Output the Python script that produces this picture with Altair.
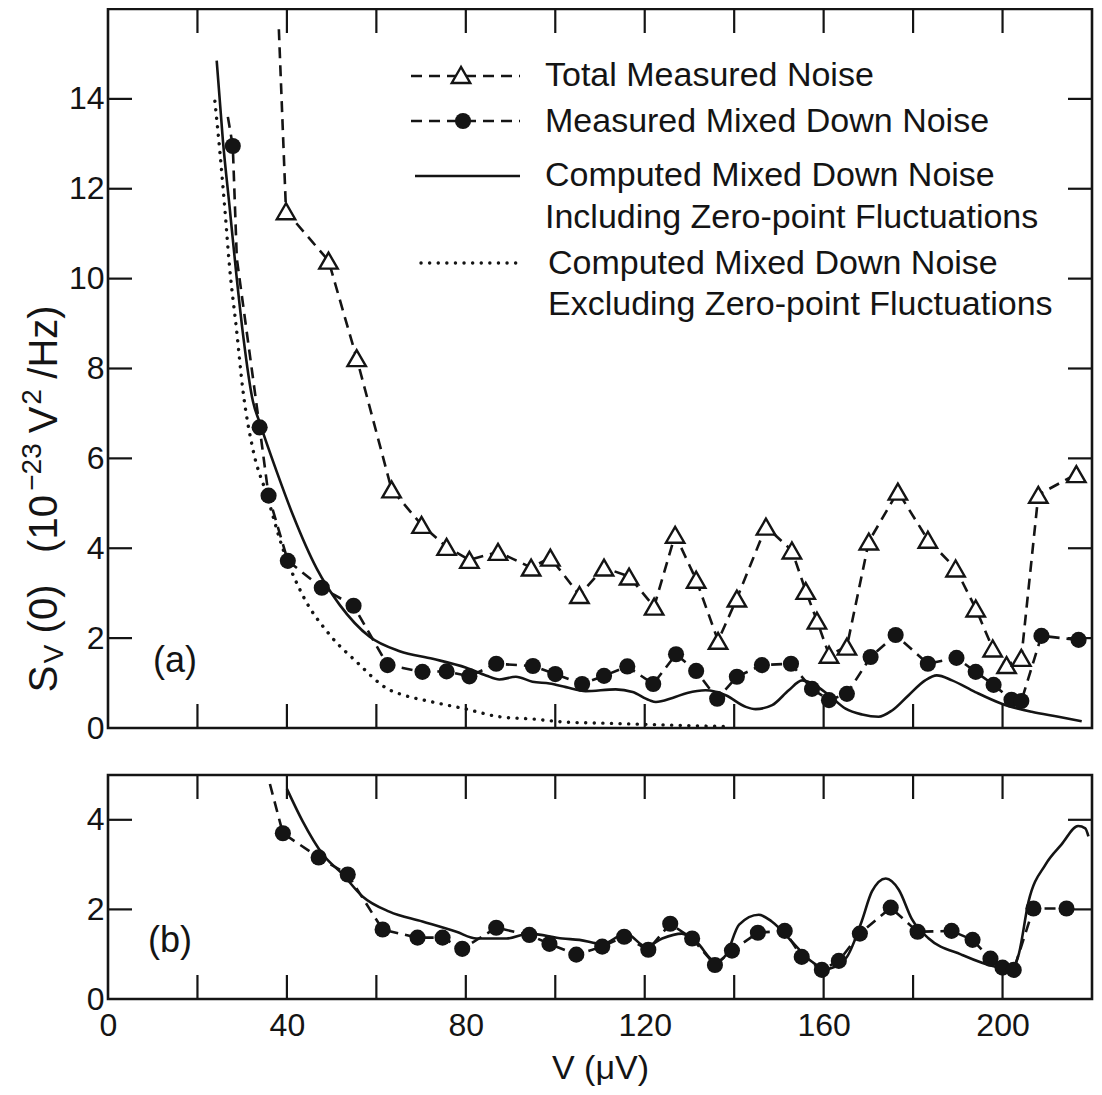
import altair as alt
import pandas as pd

# ---------------- data ----------------
# Panel (a): total measured noise (open triangles)
TOTAL_V = [39.8, 49.3, 55.6, 63.4, 70.1, 75.7, 80.8, 87.2, 94.6, 98.9, 105.4, 110.9,
           116.5, 122.1, 126.8, 131.5, 136.4, 140.6, 147.1, 152.9, 156.0, 158.5, 161.2,
           165.2, 170.1, 176.6, 183.3, 189.5, 194.0, 197.8, 200.9, 204.2, 208.0, 216.5]
TOTAL_S = [11.5, 10.4, 8.23, 5.31, 4.52, 4.03, 3.74, 3.92, 3.57, 3.79, 2.96, 3.57,
           3.37, 2.70, 4.30, 3.30, 1.94, 2.88, 4.48, 3.95, 3.05, 2.39, 1.63,
           1.81, 4.15, 5.26, 4.19, 3.55, 2.66, 1.77, 1.40, 1.56, 5.19, 5.65]
# unmarked vertices of the dashed trace (it enters from higher values)
TOTAL_EXTRA_V = [38.2]
TOTAL_EXTRA_S = [15.55]

# Panel (a): measured mixed-down noise (filled circles)
MIXA_V = [27.9, 33.9, 35.9, 40.2, 47.8, 54.9, 62.5, 70.3, 75.7, 80.8, 86.8, 95.0,
          100.0, 106.0, 110.9, 116.1, 121.9, 127.0, 131.5, 136.2, 140.6, 146.2, 152.7,
          157.4, 161.2, 165.2, 170.5, 176.1, 183.3, 189.7, 194.0, 198.0, 202.0, 204.2,
          208.7, 217.0]
MIXA_S = [12.95, 6.69, 5.17, 3.72, 3.12, 2.72, 1.40, 1.25, 1.26, 1.15, 1.43, 1.38,
          1.20, 0.98, 1.16, 1.37, 0.98, 1.64, 1.27, 0.65, 1.14, 1.40, 1.43,
          0.87, 0.62, 0.76, 1.58, 2.07, 1.43, 1.56, 1.25, 0.96, 0.63, 0.60,
          2.05, 1.96]
MIXA_EXTRA_V = [26.8, 28.8]
MIXA_EXTRA_S = [13.6, 10.45]

# Panel (a): computed, including zero-point fluctuations (solid)
INCL_V = [24.3, 25.7, 27.2, 28.7, 30.2, 32.4, 33.9, 37.7, 41.3, 46.7, 51.8, 58.5,
          65.2, 72.6, 80.1, 84.5, 87.5, 91.2, 94.9, 98.7, 102.4, 106.8, 113.5, 117.3,
          121.0, 122.5, 126.2, 129.5, 133.6, 138.1, 142.6, 144.8, 148.5, 152.2, 155.2,
          157.4, 161.2, 164.9, 168.6, 172.3, 175.3, 179.0, 182.7, 185.3, 188.7, 193.9,
          199.8, 206.5, 212.5, 217.7]
INCL_S = [14.85, 13.06, 11.58, 10.09, 8.75, 7.27, 6.80, 5.71, 4.75, 3.54, 2.74, 2.03,
          1.71, 1.54, 1.34, 1.17, 1.08, 1.14, 1.03, 0.99, 0.91, 0.82, 0.86, 0.80,
          0.62, 0.58, 0.67, 0.78, 0.84, 0.73, 0.47, 0.42, 0.51, 0.84, 1.06,
          0.99, 0.73, 0.43, 0.30, 0.25, 0.39, 0.73, 1.06, 1.17, 1.06, 0.80,
          0.54, 0.36, 0.25, 0.15]

# Panel (a): computed, excluding zero-point fluctuations (dotted)
EXCL_V = [23.9, 25.0, 26.1, 27.2, 28.7, 30.2, 32.4, 35.5, 39.1, 43.5, 49.6, 55.6,
          62.9, 65.2, 72.5, 80.1, 87.5, 94.9, 102.5, 109.8, 117.2, 127.7, 138.2]
EXCL_S = [13.95, 12.84, 11.58, 10.24, 8.90, 7.49, 6.20, 5.19, 3.99, 2.96, 2.07, 1.47,
          0.85, 0.76, 0.58, 0.42, 0.25, 0.20, 0.13, 0.11, 0.09, 0.06, 0.03]

# Panel (b): measured mixed-down noise (filled circles)
MIXB_V = [39.1, 47.1, 53.6, 61.4, 69.2, 74.8, 79.2, 86.8, 94.2, 98.7, 104.7, 110.5,
          115.4, 120.8, 125.7, 130.6, 135.7, 139.5, 145.3, 151.3, 155.1, 159.6, 163.4,
          168.1, 175.0, 181.0, 188.6, 193.3, 197.3, 200.0, 202.5, 206.9, 214.3]
MIXB_S = [3.70, 3.16, 2.78, 1.55, 1.37, 1.37, 1.12, 1.59, 1.43, 1.23, 0.99, 1.17,
          1.39, 1.10, 1.68, 1.35, 0.76, 1.08, 1.48, 1.52, 0.94, 0.65, 0.85,
          1.46, 2.04, 1.50, 1.52, 1.32, 0.90, 0.70, 0.65, 2.02, 2.02]
MIXB_EXTRA_V = [36.2]
MIXB_EXTRA_S = [4.80]

# Panel (b): computed curve (solid)
COMPB_V = [40.0, 43.5, 48.0, 52.5, 56.9, 62.9, 70.3, 77.9, 82.4, 89.1, 94.2, 101.6,
           105.4, 110.5, 115.8, 120.3, 123.9, 128.3, 131.5, 135.9, 138.2, 141.1, 145.5,
           148.4, 152.9, 157.4, 160.5, 164.9, 168.5, 170.8, 173.9, 176.8, 179.7, 183.5,
           190.8, 198.4, 202.0, 203.6, 205.8, 209.6, 213.2, 216.9, 218.5, 219.2]
COMPB_S = [4.69, 3.97, 3.23, 2.78, 2.29, 1.95, 1.73, 1.50, 1.35, 1.35, 1.46, 1.35,
           1.32, 1.23, 1.46, 1.17, 1.35, 1.46, 1.28, 0.83, 0.99, 1.66, 1.88,
           1.73, 1.28, 0.83, 0.67, 0.90, 1.73, 2.40, 2.69, 2.44, 1.79, 1.35,
           0.99, 0.72, 0.67, 0.99, 2.17, 3.00, 3.45, 3.86, 3.81, 3.63]

# axes
X_DOMAIN = [0, 220]
X_LABELS = [0, 40, 80, 120, 160, 200]
X_TICKS = [20, 40, 60, 80, 100, 120, 140, 160, 180, 200]
A_DOMAIN = [0, 16]
A_LABELS = [0, 2, 4, 6, 8, 10, 12, 14]
A_TICKS = [2, 4, 6, 8, 10, 12, 14]
B_DOMAIN = [0, 5]
B_LABELS = [0, 2, 4]
B_TICKS = [2, 4]

LEGEND_LABELS = ["Total  Measured  Noise",
                 "Measured Mixed Down Noise",
                 "Computed Mixed Down Noise",
                 "Including Zero-point Fluctuations",
                 "Computed Mixed Down Noise",
                 "Excluding Zero-point Fluctuations"]
X_TITLE = "V (\u03bcV)"
# y title pieces: S, subscript V, (0), (10, superscript -23, V, superscript 2, /Hz)
Y_TITLE_PARTS = ["S", "V", "(0)", "(10", "\u221223", "V", "2", "/Hz)"]

# ---------------- layout / style ----------------
W, H = 984, 990          # plot area of the combined figure
TOP_H = 719              # panel (a) occupies 0..TOP_H
BOT_Y0 = 766             # panel (b) occupies BOT_Y0..H
TICK = 24
INK = "#141414"
FONT = "Liberation Sans"
DASH = [11, 7]
DOT = [0.1, 8.5]


def line_df(v, s, ev=(), es=()):
    df = pd.DataFrame({"V": list(v) + list(ev), "S": list(s) + list(es)})
    return df.sort_values("V").reset_index(drop=True)


ONE = pd.DataFrame({"k": [0]})

xscale = alt.Scale(domain=X_DOMAIN, nice=False, zero=False)
X_AXIS = alt.Axis(values=X_LABELS, orient="bottom", ticks=False, tickSize=0, domain=False,
                  grid=False, labelFlush=False, labelOverlap=False, labelFont=FONT,
                  labelFontSize=32, labelColor=INK, labelPadding=11, title=X_TITLE,
                  titleFont=FONT, titleFontSize=34, titleFontWeight="normal",
                  titleColor=INK, titlePadding=10)
ya_scale = alt.Scale(domain=A_DOMAIN, range=[TOP_H, 0], nice=False, zero=False)
yb_scale = alt.Scale(domain=B_DOMAIN, range=[H, BOT_Y0], nice=False, zero=False)


def y_axis(vals):
    return alt.Axis(values=vals, orient="left", ticks=False, tickSize=0, domain=False,
                    grid=False, labelOverlap=False, labelFont=FONT, labelFontSize=32,
                    labelColor=INK, labelPadding=4, title=None)


A_AXIS = y_axis(A_LABELS)
B_AXIS = y_axis(B_LABELS)


def xe():
    return alt.X("V:Q", scale=xscale, axis=X_AXIS)


def ya():
    return alt.Y("S:Q", scale=ya_scale, axis=A_AXIS)


def yb():
    return alt.Y("S:Q", scale=yb_scale, axis=B_AXIS)


def box(y0, y1):
    return alt.Chart(ONE).mark_rect(fillOpacity=0, stroke=INK, strokeWidth=2.6).encode(
        x=alt.value(0), x2=alt.value(W), y=alt.value(y0), y2=alt.value(y1))


def xticks(y0, y1):
    return alt.Chart(pd.DataFrame({"V": X_TICKS})).mark_rule(color=INK, strokeWidth=2.2).encode(
        x=xe(), y=alt.value(y0), y2=alt.value(y1))


def yticks(vals, yenc):
    d = pd.DataFrame({"S": vals})
    left = alt.Chart(d).mark_rule(color=INK, strokeWidth=2.2).encode(
        y=yenc(), x=alt.value(0), x2=alt.value(TICK))
    right = alt.Chart(d).mark_rule(color=INK, strokeWidth=2.2).encode(
        y=yenc(), x=alt.value(W), x2=alt.value(W - TICK))
    return left, right


def text_at(txt, x, y, size=34, align="left", angle=0):
    return alt.Chart(ONE).mark_text(text=txt, font=FONT, fontSize=size, color=INK,
                                    align=align, baseline="middle", angle=angle).encode(
        x=alt.value(x), y=alt.value(y))


# ---------------- panel (a) ----------------
tot_pts = pd.DataFrame({"V": TOTAL_V, "S": TOTAL_S})
tot_line = line_df(TOTAL_V, TOTAL_S, TOTAL_EXTRA_V, TOTAL_EXTRA_S)
mixa_pts = pd.DataFrame({"V": MIXA_V, "S": MIXA_S})
mixa_line = line_df(MIXA_V, MIXA_S, MIXA_EXTRA_V, MIXA_EXTRA_S)
incl = pd.DataFrame({"V": INCL_V, "S": INCL_S})
excl = pd.DataFrame({"V": EXCL_V, "S": EXCL_S})

TRI = dict(shape="triangle-up", filled=True, fill="white", stroke=INK,
           strokeWidth=2.4, size=340, opacity=1)
DOT_SIZE = 260

a_layers = [
    box(0, TOP_H),
    xticks(TOP_H, TOP_H - TICK),
    xticks(0, TICK),
    *yticks(A_TICKS, ya),
    alt.Chart(excl).mark_line(color=INK, strokeWidth=3.4, strokeDash=DOT, strokeCap="round",
                              interpolate="monotone").encode(x=xe(), y=ya()),
    alt.Chart(incl).mark_line(color=INK, strokeWidth=2.6, interpolate="monotone").encode(x=xe(), y=ya()),
    alt.Chart(tot_line).mark_line(color=INK, strokeWidth=2.6, strokeDash=DASH).encode(x=xe(), y=ya()),
    alt.Chart(mixa_line).mark_line(color=INK, strokeWidth=2.6, strokeDash=DASH).encode(x=xe(), y=ya()),
    alt.Chart(tot_pts).mark_point(**TRI).encode(x=xe(), y=ya()),
    alt.Chart(mixa_pts).mark_circle(color=INK, size=DOT_SIZE, opacity=1).encode(x=xe(), y=ya()),
]

# legend (drawn inside panel (a))
LX0, LX1, LTX = 303, 412, 437
legend = [
    alt.Chart(ONE).mark_rule(color=INK, strokeWidth=2.6, strokeDash=DASH).encode(
        x=alt.value(LX0), x2=alt.value(LX1), y=alt.value(67)),
    alt.Chart(ONE).mark_point(**TRI).encode(x=alt.value(353), y=alt.value(66)),
    alt.Chart(ONE).mark_rule(color=INK, strokeWidth=2.6, strokeDash=DASH).encode(
        x=alt.value(LX0), x2=alt.value(LX1), y=alt.value(112)),
    alt.Chart(ONE).mark_circle(color=INK, size=DOT_SIZE, opacity=1).encode(
        x=alt.value(355), y=alt.value(112)),
    alt.Chart(ONE).mark_rule(color=INK, strokeWidth=2.6).encode(
        x=alt.value(307), x2=alt.value(LX1), y=alt.value(167)),
    alt.Chart(ONE).mark_rule(color=INK, strokeWidth=3.4, strokeDash=DOT, strokeCap="round").encode(
        x=alt.value(313), x2=alt.value(414), y=alt.value(254)),
    text_at(LEGEND_LABELS[0], LTX, 67),
    text_at(LEGEND_LABELS[1], LTX, 113),
    text_at(LEGEND_LABELS[2], LTX, 167),
    text_at(LEGEND_LABELS[3], LTX, 209),
    text_at(LEGEND_LABELS[4], LTX + 3, 255),
    text_at(LEGEND_LABELS[5], LTX + 3, 296),
    text_at("(a)", 67, 652, size=36, align="center"),
]

panel_a = alt.layer(*a_layers, *legend)

# ---------------- panel (b) ----------------
mixb_pts = pd.DataFrame({"V": MIXB_V, "S": MIXB_S})
mixb_line = line_df(MIXB_V, MIXB_S, MIXB_EXTRA_V, MIXB_EXTRA_S)
compb = pd.DataFrame({"V": COMPB_V, "S": COMPB_S})

panel_b = alt.layer(
    box(BOT_Y0, H),
    xticks(H, H - TICK),
    xticks(BOT_Y0, BOT_Y0 + TICK),
    *yticks(B_TICKS, yb),
    alt.Chart(compb).mark_line(color=INK, strokeWidth=2.6, interpolate="monotone").encode(x=xe(), y=yb()),
    alt.Chart(mixb_line).mark_line(color=INK, strokeWidth=2.6, strokeDash=DASH).encode(x=xe(), y=yb()),
    alt.Chart(mixb_pts).mark_circle(color=INK, size=DOT_SIZE, opacity=1).encode(x=xe(), y=yb()),
    text_at("(b)", 62, 932, size=36, align="center"),
)

# rotated y title assembled from pieces (sub/superscripts offset)
TX = -63
y_title = alt.layer(
    text_at(Y_TITLE_PARTS[0], TX, 670, size=40, align="center", angle=270),
    text_at(Y_TITLE_PARTS[1], TX + 10, 645, size=28, align="center", angle=270),
    text_at(Y_TITLE_PARTS[2], TX, 600, size=40, align="center", angle=270),
    text_at(Y_TITLE_PARTS[3], TX, 515, size=40, align="center", angle=270),
    text_at(Y_TITLE_PARTS[4], TX - 12, 458, size=28, align="center", angle=270),
    text_at(Y_TITLE_PARTS[5], TX, 411, size=40, align="center", angle=270),
    text_at(Y_TITLE_PARTS[6], TX - 12, 388, size=28, align="center", angle=270),
    text_at(Y_TITLE_PARTS[7], TX, 333, size=40, align="center", angle=270),
)

chart = alt.layer(panel_a, panel_b, y_title).resolve_scale(y="independent").properties(
    width=W, height=H,
    autosize=alt.AutoSizeParams(type="none"),
    padding={"left": 100, "top": 1, "right": 2, "bottom": 88},
).configure_view(stroke=None)

chart.save("out.html", embed_options={"renderer": "svg", "actions": False})
